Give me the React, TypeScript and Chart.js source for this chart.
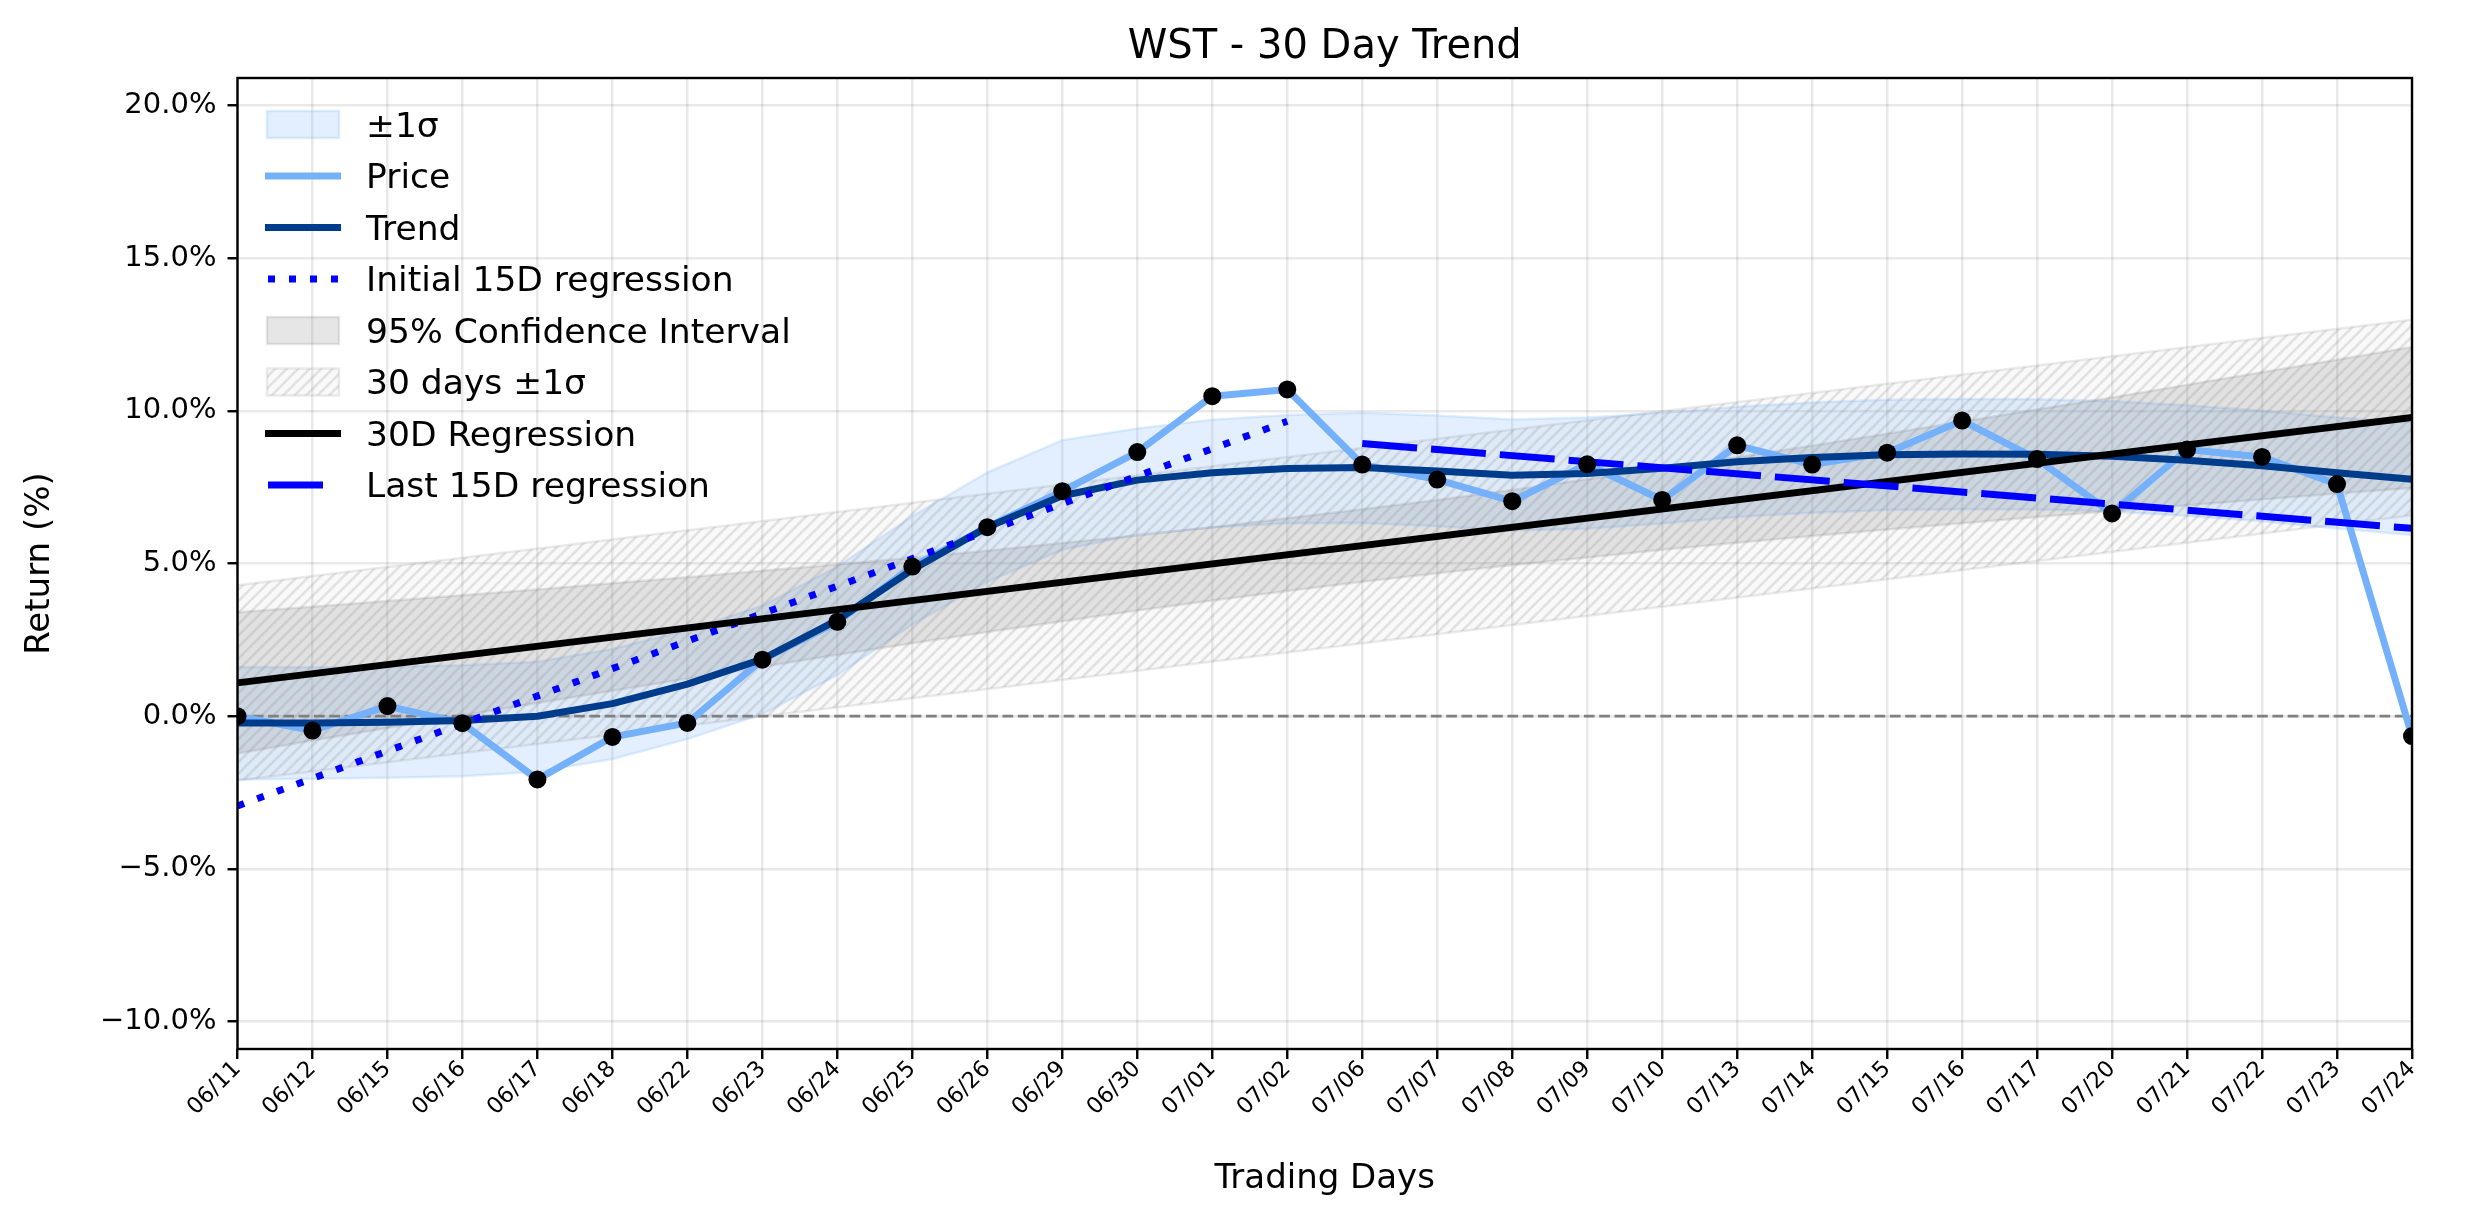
import React, { useEffect, useRef } from 'react';
import { Chart, registerables } from 'chart.js';

Chart.register(...registerables);

const FONT = 'DejaVu Sans';

// ---------- data ----------
const dates = [
  '06/11', '06/12', '06/15', '06/16', '06/17', '06/18', '06/22', '06/23', '06/24', '06/25',
  '06/26', '06/29', '06/30', '07/01', '07/02', '07/06', '07/07', '07/08', '07/09', '07/10',
  '07/13', '07/14', '07/15', '07/16', '07/17', '07/20', '07/21', '07/22', '07/23', '07/24',
];

const price = [
  0.0, -0.47, 0.33, -0.23, -2.07, -0.68, -0.22, 1.85, 3.09, 4.9,
  6.19, 7.37, 8.65, 10.48, 10.7, 8.24, 7.75, 7.04, 8.25, 7.08,
  8.87, 8.24, 8.63, 9.68, 8.42, 6.64, 8.73, 8.49, 7.6, -0.65,
];

const trend = [
  -0.22, -0.22, -0.2, -0.14, 0.0, 0.41, 1.05, 1.87, 3.15, 4.8,
  6.19, 7.22, 7.73, 7.97, 8.11, 8.14, 8.03, 7.89, 7.95, 8.12,
  8.33, 8.47, 8.56, 8.59, 8.58, 8.51, 8.38, 8.2, 7.97, 7.76,
];

const sigmaUpper = [
  1.61, 1.6, 1.62, 1.67, 1.78, 2.2, 2.82, 3.62, 4.9, 6.55,
  7.98, 9.04, 9.42, 9.71, 9.86, 9.94, 9.85, 9.72, 9.78, 9.93,
  10.13, 10.27, 10.36, 10.39, 10.38, 10.31, 10.18, 10.0, 9.78, 9.62,
];

const sigmaLower = [
  -2.07, -2.05, -2.02, -1.97, -1.82, -1.4, -0.75, 0.07, 1.35, 3.0,
  4.4, 5.45, 5.95, 6.18, 6.32, 6.33, 6.22, 6.08, 6.14, 6.31,
  6.52, 6.66, 6.75, 6.78, 6.77, 6.7, 6.56, 6.38, 6.15, 5.93,
];

const ciUpper = [
  3.4, 3.58, 3.77, 3.96, 4.15, 4.35, 4.55, 4.76, 4.97, 5.19,
  5.42, 5.67, 5.92, 6.19, 6.48, 6.78, 7.08, 7.41, 7.76, 8.11,
  8.48, 8.86, 9.25, 9.64, 10.04, 10.44, 10.85, 11.26, 11.67, 12.09,
];

const ciLower = [
  -1.22, -0.8, -0.39, 0.02, 0.43, 0.83, 1.23, 1.62, 2.01, 2.39,
  2.76, 3.11, 3.46, 3.79, 4.1, 4.4, 4.68, 4.95, 5.2, 5.45,
  5.68, 5.9, 6.11, 6.32, 6.52, 6.72, 6.91, 7.1, 7.29, 7.47,
];

// straight lines: [x start, x end] and [y start, y end]
const fullSpanX = [0, 29];
const band30Upper = [4.29, 12.98];
const band30Lower = [-2.11, 6.58];
const reg30 = [1.09, 9.78];
const zeroLine = [0, 0];
const initRegX = [0, 14];
const initReg = [-2.94, 9.66];
const lastRegX = [15, 29];
const lastReg = [8.93, 6.15];

const yTicks = { min: -10.9, max: 20.9, step: 5 };

// ---------- styles ----------
const PRICE = '#75b0fa';
const TREND = '#003c8c';
const SIGMA_FILL = 'rgba(117,176,250,0.2)';
const SIGMA_EDGE = 'rgba(117,176,250,0.22)';
const CI_FILL = 'rgba(128,128,128,0.2)';
const CI_EDGE = 'rgba(128,128,128,0.2)';
const HATCH_EDGE = 'rgba(128,128,128,0.16)';
const GRID = 'rgba(0,0,0,0.085)';

function makeHatch(): CanvasPattern | string {
  const T = 23;
  const c = document.createElement('canvas');
  c.width = T;
  c.height = T;
  const g = c.getContext('2d');
  if (!g) return 'rgba(128,128,128,0.06)';
  g.fillStyle = 'rgba(128,128,128,0.05)';
  g.fillRect(0, 0, T, T);
  g.strokeStyle = 'rgba(128,128,128,0.2)';
  g.lineWidth = 2.6;
  for (let k = -1; k <= 5; k++) {
    const cc = k * 11.5;
    g.beginPath();
    g.moveTo(cc + 12, -12);
    g.lineTo(cc - T - 12, T + 12);
    g.stroke();
  }
  const p = g.createPattern(c, 'repeat');
  return p || 'rgba(128,128,128,0.06)';
}

const pts = (ys: number[]) => ys.map((y, i) => ({ x: i, y }));
const seg = (xs: number[], ys: number[]) => xs.map((x, i) => ({ x, y: ys[i] }));

const fmtPct = (v: number) => `${v < 0 ? '\u2212' : ''}${Math.abs(v).toFixed(1)}%`;

export default function App() {
  const ref = useRef<HTMLCanvasElement | null>(null);

  useEffect(() => {
    if (!ref.current) return;
    const hatch = makeHatch();

    const legendItems: any[] = [
      { label: '\u00b11\u03c3', kind: 'patch', fill: SIGMA_FILL, edge: SIGMA_EDGE },
      { label: 'Price', kind: 'line', color: PRICE },
      { label: 'Trend', kind: 'line', color: TREND },
      { label: 'Initial 15D regression', kind: 'line', color: '#0000ff', dash: [7, 14], start: 268 },
      { label: '95% Confidence Interval', kind: 'patch', fill: CI_FILL, edge: CI_EDGE },
      { label: '30 days \u00b11\u03c3', kind: 'patch', fill: hatch, edge: HATCH_EDGE },
      { label: '30D Regression', kind: 'line', color: '#000000' },
      { label: 'Last 15D regression', kind: 'line', color: '#0000ff', start: 268, end: 323 },
    ];

    const legendPlugin = {
      id: 'mplLegend',
      afterDraw(chart: any) {
        const ctx = chart.ctx as CanvasRenderingContext2D;
        ctx.save();
        const x0 = 265;
        const x1 = 341;
        const textX = 366;
        const y0 = 124.5;
        const dy = 51.5;
        legendItems.forEach((it, k) => {
          const y = y0 + k * dy;
          if (it.kind === 'patch') {
            ctx.fillStyle = it.fill;
            ctx.fillRect(267, y - 13.5, 72, 27);
            ctx.strokeStyle = it.edge;
            ctx.lineWidth = 2.5;
            ctx.strokeRect(267, y - 13.5, 72, 27);
          } else {
            ctx.beginPath();
            ctx.strokeStyle = it.color;
            ctx.lineWidth = 7;
            ctx.lineCap = 'butt';
            ctx.setLineDash(it.dash || []);
            ctx.moveTo(it.start ?? x0, y);
            ctx.lineTo(it.end ?? x1, y);
            ctx.stroke();
            ctx.setLineDash([]);
          }
          ctx.fillStyle = '#000';
          ctx.font = `34.5px "${FONT}"`;
          ctx.textBaseline = 'alphabetic';
          ctx.textAlign = 'left';
          ctx.fillText(it.label, textX, y + 12.4);
        });
        ctx.restore();
      },
    };

    const spinePlugin = {
      id: 'spines',
      afterDatasetsDraw(chart: any) {
        const { ctx, chartArea } = chart;
        ctx.save();
        ctx.strokeStyle = '#000';
        ctx.lineWidth = 2.4;
        ctx.strokeRect(chartArea.left, chartArea.top, chartArea.right - chartArea.left, chartArea.bottom - chartArea.top);
        ctx.restore();
      },
    };

    const lineBase = { pointRadius: 0, tension: 0, clip: 0, borderJoinStyle: 'round' as const };

    const chart = new Chart(ref.current, {
      type: 'line',
      data: {
        datasets: [
          { ...lineBase, label: 'sigLo', data: pts(sigmaLower), borderColor: SIGMA_EDGE, borderWidth: 2.5, fill: false, order: 100 },
          { ...lineBase, label: 'sigHi', data: pts(sigmaUpper), borderColor: SIGMA_EDGE, borderWidth: 2.5, fill: '-1', backgroundColor: SIGMA_FILL, order: 99 },
          { ...lineBase, label: 'ciLo', data: pts(ciLower), borderColor: CI_EDGE, borderWidth: 2.5, fill: false, order: 98 },
          { ...lineBase, label: 'ciHi', data: pts(ciUpper), borderColor: CI_EDGE, borderWidth: 2.5, fill: '-1', backgroundColor: CI_FILL, order: 97 },
          { ...lineBase, label: 'bLo', data: seg(fullSpanX, band30Lower), borderColor: HATCH_EDGE, borderWidth: 2.5, fill: false, order: 96 },
          { ...lineBase, label: 'bHi', data: seg(fullSpanX, band30Upper), borderColor: HATCH_EDGE, borderWidth: 2.5, fill: '-1', backgroundColor: hatch, order: 95 },
          { ...lineBase, label: 'zero', data: seg(fullSpanX, zeroLine), borderColor: '#808080', borderWidth: 2.9, borderDash: [10.7, 4.6], fill: false, order: 90 },
          { ...lineBase, label: 'Price', data: pts(price), borderColor: PRICE, borderWidth: 7, fill: false, order: 80 },
          { ...lineBase, label: 'Trend', data: pts(trend), borderColor: TREND, borderWidth: 7, fill: false, order: 70 },
          { ...lineBase, label: 'Initial 15D regression', data: seg(initRegX, initReg), borderColor: '#0000ff', borderWidth: 7, borderDash: [7, 14], borderCapStyle: 'butt', fill: false, order: 60 },
          { ...lineBase, label: '30D Regression', data: seg(fullSpanX, reg30), borderColor: '#000000', borderWidth: 7, fill: false, order: 50 },
          { ...lineBase, label: 'Last 15D regression', data: seg(lastRegX, lastReg), borderColor: '#0000ff', borderWidth: 7, borderDash: [55, 14], borderCapStyle: 'butt', fill: false, order: 40 },
          { label: 'pts', data: pts(price), showLine: false, pointRadius: 9, pointHoverRadius: 9, pointBackgroundColor: '#000', pointBorderWidth: 0, borderColor: '#000', clip: 0, order: 10 },
        ],
      },
      options: {
        responsive: false,
        animation: false,
        devicePixelRatio: 1,
        events: [],
        layout: { padding: { left: 0, right: 62, top: 0, bottom: 0 } },
        plugins: {
          legend: { display: false },
          tooltip: { enabled: false },
          title: {
            display: true,
            text: 'WST - 30 Day Trend',
            color: '#000',
            fullSize: false,
            font: { family: FONT, size: 40, weight: 'normal' },
            padding: { top: 23.6, bottom: 6.4 },
          },
        },
        scales: {
          x: {
            type: 'linear',
            min: 0,
            max: fullSpanX[1],
            ticks: {
              stepSize: 1,
              autoSkip: false,
              minRotation: 45,
              maxRotation: 45,
              padding: -3,
              color: '#000',
              font: { family: FONT, size: 22.5 },
              callback: (v: any) => dates[Number(v)] ?? '',
            },
            grid: { color: GRID, lineWidth: 2.5, tickColor: '#000', tickWidth: 2.4, tickLength: 10, drawTicks: true },
            border: { display: false },
            title: {
              display: true,
              text: 'Trading Days',
              color: '#000',
              font: { family: FONT, size: 34 },
              padding: { top: 0, bottom: 24.6 },
            },
            afterFit: (s: any) => {
              s.height = 175;
            },
          },
          y: {
            type: 'linear',
            min: yTicks.min,
            max: yTicks.max,
            ticks: {
              stepSize: yTicks.step,
              includeBounds: false,
              padding: 11,
              color: '#000',
              font: { family: FONT, size: 29 },
              callback: (v: any) => fmtPct(Number(v)),
            },
            grid: { color: GRID, lineWidth: 2.5, tickColor: '#000', tickWidth: 2.4, tickLength: 10, drawTicks: true },
            border: { display: false },
            title: {
              display: true,
              text: 'Return (%)',
              color: '#000',
              font: { family: FONT, size: 34 },
              padding: { top: 20, bottom: 0 },
            },
            afterFit: (s: any) => {
              s.width = 237.5;
            },
          },
        },
      } as any,
      plugins: [spinePlugin, legendPlugin],
    });

    return () => {
      chart.destroy();
    };
  }, []);

  return (
    <canvas
      ref={ref}
      width={2474}
      height={1224}
      style={{ position: 'fixed', left: 0, top: 0, width: 2474, height: 1224, display: 'block', background: '#fff' }}
    />
  );
}
